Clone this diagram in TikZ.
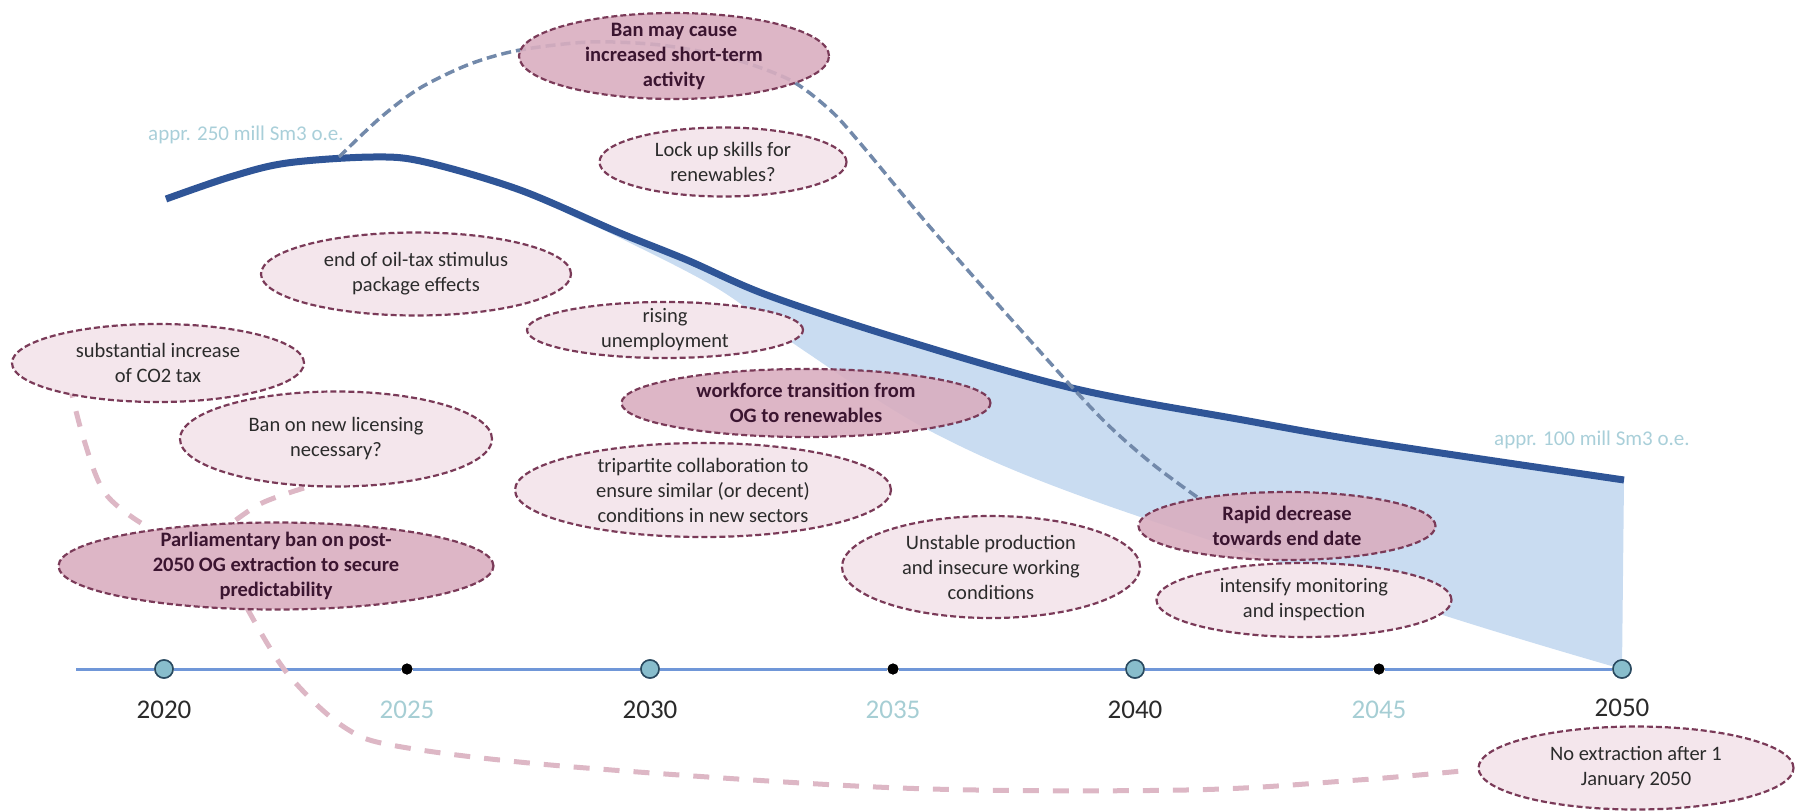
\documentclass[tikz,border=0pt]{standalone}
\usepackage{fontspec}
\setmainfont{Carlito}
\usetikzlibrary{shapes.geometric}
\definecolor{curveblue}{HTML}{2F5597}
\definecolor{areablue}{HTML}{C9DCF1}
\definecolor{axisblue}{HTML}{7097D8}
\definecolor{dotfill}{HTML}{88BDCC}
\definecolor{dotline}{HTML}{2A4A60}
\definecolor{yeardark}{HTML}{2A2A2A}
\definecolor{yearlight}{HTML}{A6CED4}
\definecolor{notecol}{HTML}{A9CFD9}
\definecolor{greydash}{HTML}{7289AA}
\definecolor{pinkdash}{HTML}{DDB7C5}
\definecolor{ellborder}{HTML}{7A3A58}
\definecolor{darkfill}{HTML}{D9AEC0}
\definecolor{lightfill}{HTML}{F4E6EC}
\definecolor{boldtext}{HTML}{3B1530}
\definecolor{lighttext}{HTML}{2B2B2B}
\tikzset{
  ellbase/.style={ellipse, draw=ellborder, line width=2.2pt, dash pattern=on 6pt off 3pt, inner sep=0pt},
  lightell/.style={ellbase, fill=lightfill},
  darkell/.style={ellbase, fill=darkfill, fill opacity=0.9, draw opacity=1},
  lighttxt/.style={align=center, text=lighttext, font=\fontsize{20.5}{25}\selectfont, inner sep=0pt},
  boldtxt/.style={align=center, text=boldtext, font=\fontsize{20.5}{25}\selectfont\bfseries, inner sep=0pt},
  bigdot/.style={circle, fill=dotfill, draw=dotline, line width=1.5pt, minimum size=18pt, inner sep=0pt},
  smalldot/.style={circle, fill=black, minimum size=11pt, inner sep=0pt},
  yeardk/.style={text=yeardark, font=\fontsize{27}{30}\selectfont, inner sep=0pt},
  yearlt/.style={text=yearlight, font=\fontsize{27}{30}\selectfont, inner sep=0pt},
  notetxt/.style={text=notecol, font=\fontsize{21}{25}\selectfont, inner sep=0pt},
  greyconn/.style={draw=greydash, line width=3.5pt, dash pattern=on 10pt off 5pt},
  pinkconn/.style={draw=pinkdash, line width=5pt, dash pattern=on 16pt off 14pt},
}
\begin{document}
\begin{tikzpicture}[x=1pt,y=-1pt]
\useasboundingbox (0,0) rectangle (1797,811);

% shaded area
\fill[areablue] plot[smooth, tension=0.55] coordinates {(530,193) (620,233) (687,260) (767,295) (897,338) (1072,388) (1243,420) (1375,443) (1624,480)}
  -- (1622,669)
  -- plot[smooth, tension=0.55] coordinates {(1622,669) (1449,617) (1100,503) (934,433) (803,350) (720,290) (620,238) (570,215) (530,193)} -- cycle;

% main curve
\draw[curveblue, line width=7pt] plot[smooth, tension=0.55] coordinates {(166,199) (230,177) (287,163) (373,157) (425,162) (520,190) (620,233) (687,260) (767,295) (897,338) (1072,388) (1243,420) (1375,443) (1624,480)};

% labels on curve
\node[notetxt] (n250) at (246,135) {appr. 250 mill Sm3 o.e.};
\node[notetxt] (n100) at (1592,440) {appr. 100 mill Sm3 o.e.};

% timeline
\coordinate (tl0) at (76,669);
\node[bigdot] (y2020) at (164,669) {};
\node[smalldot] (y2025) at (407,669) {};
\node[bigdot] (y2030) at (650,669) {};
\node[smalldot] (y2035) at (893,669) {};
\node[bigdot] (y2040) at (1135,669) {};
\node[smalldot] (y2045) at (1379,669) {};
\node[bigdot] (y2050) at (1622,669) {};
\draw[axisblue, line width=3pt] (tl0) -- (y2020) -- (y2025) -- (y2030) -- (y2035) -- (y2040) -- (y2045) -- (y2050);
\foreach \n in {y2020,y2030,y2040,y2050}{\node[bigdot] at (\n) {};}
\foreach \n in {y2025,y2035,y2045}{\node[smalldot] at (\n) {};}

\node[yeardk] (t2020) at (164,710) {2020};
\node[yearlt] (t2025) at (407,710) {2025};
\node[yeardk] (t2030) at (650,710) {2030};
\node[yearlt] (t2035) at (893,710) {2035};
\node[yeardk] (t2040) at (1135,710) {2040};
\node[yearlt] (t2045) at (1379,710) {2045};
\node[yeardk] (t2050) at (1622,708) {2050};

% grey dashed connector (from curve peak, through "Ban may cause", to "Rapid decrease")
\draw[greyconn] plot[smooth, tension=0.5] coordinates {(339,157) (380,118) (420,88) (470,64) (520,50) (590,42) (660,45) (730,58) (790,80) (830,110) (860,143) (930,227) (1027,337) (1100,417) (1150,462) (1197,497)};

% pink dashed connectors
\draw[pinkconn] plot[smooth, tension=0.6] coordinates {(69,382) (84,440) (105,493) (141,523)};
\draw[pinkconn] plot[smooth, tension=0.6] coordinates {(304,488) (262,503) (232,523)};
\draw[pinkconn] plot[smooth, tension=0.55] coordinates {(247,608) (287,673) (344,727) (402,747) (574,767) (900,788) (1186,790) (1358,780) (1472,770)};

% ellipses
\node[darkell, minimum width=310pt, minimum height=86pt] (ban) at (674,56) {};
\node[boldtxt] (bantx) at (ban) {Ban may cause\\increased short-term\\activity};

\node[lightell, minimum width=247pt, minimum height=69pt] (lock) at (723,162) {};
\node[lighttxt] (locktx) at (lock) {Lock up skills for\\renewables?};

\node[lightell, minimum width=310pt, minimum height=83pt] (endoil) at (416,274) {};
\node[lighttxt] (endoiltx) at (endoil) {end of oil-tax stimulus\\package effects};

\node[lightell, minimum width=276pt, minimum height=56pt] (rising) at (665,330) {};
\node[lighttxt] (risingtx) at (rising) {rising\\unemployment};

\node[lightell, minimum width=292pt, minimum height=78pt] (co2) at (158,363) {};
\node[lighttxt] (co2tx) at (co2) {substantial increase\\of CO2 tax};

\node[darkell, minimum width=369pt, minimum height=68pt] (workforce) at (806,403) {};
\node[boldtxt] (workforcetx) at (workforce) {workforce transition from\\OG to renewables};

\node[lightell, minimum width=312pt, minimum height=95pt] (licensing) at (336,439) {};
\node[lighttxt] (licensingtx) at (licensing) {Ban on new licensing\\necessary?};

\node[lightell, minimum width=376pt, minimum height=94pt] (tripartite) at (703,490) {};
\node[lighttxt] (tripartitetx) at (tripartite) {tripartite collaboration to\\ensure similar (or decent)\\conditions in new sectors};

\node[darkell, minimum width=435pt, minimum height=87pt] (parl) at (276,566) {};
\node[boldtxt] (parltx) at (parl) {Parliamentary ban on post-\\2050 OG extraction to secure\\predictability};

\node[lightell, minimum width=298pt, minimum height=102pt] (unstable) at (991,567) {};
\node[lighttxt] (unstabletx) at (unstable) {Unstable production\\and insecure working\\conditions};

\node[darkell, minimum width=297pt, minimum height=68pt] (rapid) at (1287,526) {};
\node[boldtxt] (rapidtx) at (rapid) {Rapid decrease\\towards end date};

\node[lightell, minimum width=295pt, minimum height=74pt] (intensify) at (1304,600) {};
\node[lighttxt] (intensifytx) at (intensify) {intensify monitoring\\and inspection};

\node[lightell, minimum width=315pt, minimum height=83pt] (noext) at (1636,768) {};
\node[lighttxt] (noexttx) at (noext) {No extraction after 1\\January 2050};
\end{tikzpicture}
\end{document}
